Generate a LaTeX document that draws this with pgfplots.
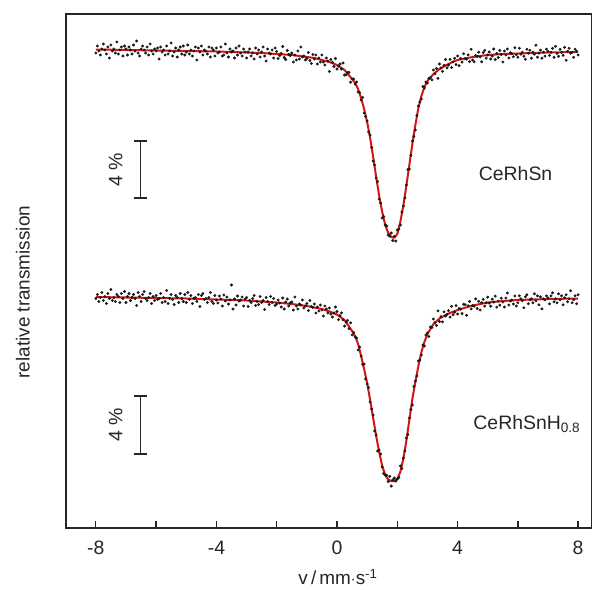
\documentclass[border=0pt]{standalone}
\usepackage{pgfplots}
\pgfplotsset{compat=1.18}
\usepackage{fontspec}
\setmainfont{Liberation Sans}
\definecolor{fitred}{RGB}{215,20,20}
\begin{document}
\begin{tikzpicture}
\fontsize{19.5}{23}\selectfont
\begin{axis}[
  scale only axis,
  width=526bp, height=514bp,
  xmin=-8.99, xmax=8.46,
  ymin=14, ymax=528,
  y dir=reverse,
  ytick=\empty,
  xtick={-8,-6,...,8},
  xticklabels={-8,,-4,,0,,4,,8},
  xtick pos=bottom,
  tick align=inside,
  major tick length=7.5bp,
  tick style={line width=1.3bp, black!85},
  axis line style={line width=1.8bp, black!85},
  /pgf/number format/assume math mode=true,
  xticklabel style={font=\fontsize{19.5}{23}\selectfont, text=black!85, yshift=-6bp},
  xlabel={v\,/\,mm$\cdot$s\textsuperscript{-1}},
  xlabel style={font=\fontsize{19}{23}\selectfont, text=black!85, at={(axis description cs:0.517,-0.096)}, anchor=center},
  ylabel={relative transmission},
  ylabel style={font=\fontsize{19}{23}\selectfont, text=black!85, at={(axis description cs:-0.082,0.459)}, anchor=center, rotate=0},
  clip=false,
]
\coordinate (O) at (axis description cs:0,0);
% fit curve, top spectrum
\addplot[fitred, line width=2bp] table {
-8 49.5
-7 50
-6 50.5
-5 51
-4 51.5
-3 52.5
-2.5 53
-2 54
-1.5 55
-1 57
-0.75 58
-0.5 60
-0.25 62
0 65
0.05 66
0.1 67
0.15 68
0.2 69
0.25 70
0.3 71.8
0.35 73.6
0.4 75.4
0.45 77.2
0.5 79
0.55 81
0.6 83
0.65 86
0.7 89
0.75 93.5
0.8 98
0.85 103.5
0.9 109
0.95 115.5
1 122
1.05 130
1.1 138
1.15 147.5
1.2 157
1.25 167
1.3 177
1.35 186.5
1.4 196
1.45 204
1.5 212
1.55 218.5
1.6 225
1.65 229
1.7 233
1.75 235
1.8 237
1.85 237.5
1.9 237.5
1.95 236
2 234
2.05 228
2.1 222
2.15 214
2.2 206
2.25 196
2.3 186
2.35 175.5
2.4 165
2.45 154.5
2.5 144
2.55 134.5
2.6 125
2.65 116.5
2.7 108
2.75 102
2.8 96
2.85 91.5
2.9 87
2.95 84
3 81
3.05 79.3
3.1 77.5
3.15 75.8
3.2 74
3.25 72.8
3.3 71.5
3.35 70.3
3.4 69
3.45 68
3.5 67.3
3.55 66.4
3.6 65.5
3.65 64.8
3.7 64
3.75 63.3
3.8 62.5
3.85 61.9
3.9 61.3
3.95 60.6
4 60
4.5 57
5 55
5.5 54
6 53.5
7 52.5
8 52
};
% fit curve, bottom spectrum
\addplot[fitred, line width=2bp] table {
-8 297
-7 297.5
-6 298
-5 298.5
-4 299.5
-3 300.5
-2.5 301.5
-2 302.5
-1.5 304
-1 306
-0.75 307.5
-0.5 309
-0.25 311.5
0 314.5
0.05 315.6
0.1 316.7
0.15 317.8
0.2 318.9
0.25 320
0.3 322.2
0.35 324.4
0.4 326.6
0.45 328.8
0.5 331
0.55 333.5
0.6 336
0.65 340
0.7 344
0.75 350
0.8 356
0.85 362.5
0.9 369
0.95 376
1 383
1.05 391.5
1.1 400
1.15 409
1.2 418
1.25 427
1.3 436
1.35 444
1.4 452
1.45 459
1.5 466
1.55 470.5
1.6 475
1.65 477.3
1.7 479.5
1.75 480.3
1.8 481
1.85 481
1.9 481
1.95 480
2 479
2.05 475.5
2.1 472
2.15 465.5
2.2 459
2.25 450
2.3 441
2.35 430.5
2.4 420
2.45 409.5
2.5 399
2.55 390.5
2.6 382
2.65 374
2.7 366
2.75 359
2.8 352
2.85 347
2.9 342
2.95 338
3 334
3.05 331.5
3.1 329
3.15 326.5
3.2 324
3.25 322.6
3.3 321.3
3.35 319.9
3.4 318.5
3.45 317.6
3.5 316.8
3.55 315.9
3.6 315
3.65 314.3
3.7 313.6
3.75 313
3.8 312.3
3.85 311.7
3.9 311.2
3.95 310.6
4 310
4.5 305.5
5 302.5
5.5 301
6 300
7 299
8 298.5
};
% measured points, top spectrum (CeRhSn)
\addplot[only marks, mark=*, mark size=1.25bp, black!90] table {
-8 53
-7.95 46
-7.9 51
-7.85 55
-7.8 49
-7.75 44
-7.7 50
-7.65 54
-7.6 47
-7.55 58
-7.5 45
-7.45 51
-7.4 49
-7.35 53
-7.3 42
-7.25 54
-7.2 50
-7.15 47
-7.1 56
-7.05 46
-7 49
-6.95 55
-6.9 47
-6.85 50
-6.8 54
-6.75 45
-6.7 51
-6.65 41
-6.6 53
-6.55 56
-6.5 49
-6.45 46
-6.4 50
-6.35 53
-6.3 47
-6.25 55
-6.2 44
-6.15 51
-6.1 54
-6.05 49
-6 51
-5.95 48
-5.9 59
-5.85 47
-5.8 52
-5.75 50
-5.7 55
-5.65 46
-5.6 54
-5.55 51
-5.5 43
-5.45 56
-5.4 52
-5.35 48
-5.3 57
-5.25 50
-5.2 47
-5.15 54
-5.1 46
-5.05 55
-5 52
-4.95 45
-4.9 54
-4.85 50
-4.8 56
-4.75 51
-4.7 47
-4.65 60
-4.6 48
-4.55 52
-4.5 46
-4.45 55
-4.4 50
-4.35 51
-4.3 54
-4.25 47
-4.2 57
-4.15 48
-4.1 50
-4.05 56
-4 48
-3.95 53
-3.9 52
-3.85 47
-3.8 56
-3.75 55
-3.7 44
-3.65 53
-3.6 57
-3.55 49
-3.5 52
-3.45 51
-3.4 58
-3.35 48
-3.3 55
-3.25 46
-3.2 53
-3.15 56
-3.1 49
-3.05 52
-3 58
-2.95 52
-2.9 49
-2.85 56
-2.8 53
-2.75 59
-2.7 48
-2.65 54
-2.6 50
-2.55 57
-2.5 52
-2.45 47
-2.4 56
-2.35 61
-2.3 49
-2.25 53
-2.2 54
-2.15 50
-2.1 58
-2.05 48
-2 51.5
-1.95 58.5
-1.9 55.5
-1.85 53.5
-1.8 46.5
-1.75 57.5
-1.7 59.5
-1.65 50.5
-1.6 54.5
-1.55 55.5
-1.5 53
-1.45 62
-1.4 55
-1.35 60
-1.3 51
-1.25 59
-1.2 47
-1.15 57
-1.1 56
-1.05 60
-1 58.5
-0.95 52.5
-0.9 60.5
-0.85 63.5
-0.8 54.5
-0.75 59
-0.7 55
-0.65 64
-0.6 58
-0.55 62
-0.5 55
-0.45 62
-0.4 65
-0.35 58
-0.3 61
-0.25 71.5
-0.2 59.5
-0.15 62.5
-0.1 66.5
-0.05 58.5
0 69
0.05 66
0.1 64
0.15 69
0.2 63
0.25 75
0.3 74.8
0.35 72.6
0.4 72.4
0.45 82.2
0.5 79
0.55 79
0.6 84
0.65 82
0.7 92
0.75 92.5
0.8 100
0.85 97.5
0.9 113
0.95 116.5
1 121
1.05 132
1.1 135
1.15 147.5
1.2 161
1.25 165
1.3 178
1.35 181.5
1.4 199
1.45 203
1.5 218
1.55 216.5
1.6 225
1.65 226
1.7 235
1.75 236
1.8 233
1.85 240.5
1.9 236.5
1.95 241
2 230
2.05 229
2.1 225
2.15 212
2.2 206
2.25 198
2.3 185
2.35 169.5
2.4 169
2.45 155.5
2.5 141
2.55 136.5
2.6 130
2.65 115.5
2.7 106
2.75 102
2.8 99
2.85 86.5
2.9 88
2.95 82
3 83
3.05 78.3
3.1 77.5
3.15 79.8
3.2 70
3.25 73.8
3.3 68.5
3.35 78.3
3.4 64
3.45 68
3.5 71.3
3.55 65.4
3.6 59.5
3.65 67.8
3.7 65
3.75 59.3
3.8 67.5
3.85 61.9
3.9 58.3
3.95 64.6
4 56
4.05 65.7
4.1 58.4
4.15 62.1
4.2 53.8
4.25 58.5
4.3 59.2
4.35 54.9
4.4 61.6
4.45 49.3
4.5 60
4.55 61.8
4.6 55.6
4.65 56.4
4.7 52.2
4.75 57
4.8 61.8
4.85 52.6
4.9 50.4
4.95 58.2
5 55
5.05 52
5.1 59
5.15 56
5.2 49
5.25 59.5
5.3 53.5
5.35 57.5
5.4 50.5
5.45 54.5
5.5 62
5.55 51
5.6 55
5.65 49
5.7 58
5.75 52.7
5.8 53.7
5.85 56.7
5.9 47.7
5.95 54.7
6 57.2
6.05 48.2
6.1 54.2
6.15 52.2
6.2 56.2
6.25 59.2
6.3 49.2
6.35 53.2
6.4 50.2
6.45 58.2
6.5 52.2
6.55 54.2
6.6 45.2
6.65 57.2
6.7 53.2
6.75 50.2
6.8 58.2
6.85 52.2
6.9 56.2
6.95 49.2
7 51.3
7.05 55.3
7.1 52.3
7.15 48.3
7.2 57.3
7.25 46.3
7.3 53.3
7.35 56.3
7.4 49.3
7.45 52.3
7.5 55.3
7.55 47.3
7.6 60.3
7.65 51.3
7.7 48.3
7.75 53.3
7.8 52.3
7.85 57.3
7.9 49.3
7.95 51.3
8 55
};
% measured points, bottom spectrum (CeRhSnH0.8)
\addplot[only marks, mark=*, mark size=1.25bp, black!90] table {
-8 298.5
-7.95 294.5
-7.9 301.5
-7.85 297.5
-7.8 292.5
-7.75 300.5
-7.7 296.5
-7.65 303.5
-7.6 293.5
-7.55 298.5
-7.5 289.5
-7.45 300.5
-7.4 297.5
-7.35 301.5
-7.3 294.5
-7.25 296.5
-7.2 302.5
-7.15 293.5
-7.1 298.5
-7.05 291.5
-7 302.5
-6.95 296.5
-6.9 293.5
-6.85 300.5
-6.8 297.5
-6.75 294.5
-6.7 298.5
-6.65 305.5
-6.6 292.5
-6.55 296.5
-6.5 301.5
-6.45 294.5
-6.4 291.5
-6.35 298.5
-6.3 300.5
-6.25 297.5
-6.2 293.5
-6.15 303.5
-6.1 296.5
-6.05 300.5
-6 295.5
-5.95 299.5
-5.9 298.5
-5.85 293.5
-5.8 302.5
-5.75 297.5
-5.7 301.5
-5.65 290.5
-5.6 303.5
-5.55 298.5
-5.5 294.5
-5.45 299.5
-5.4 304.5
-5.35 295.5
-5.3 297.5
-5.25 302.5
-5.2 293.5
-5.15 298.5
-5.1 301.5
-5.05 294.5
-5 302.5
-4.95 292.5
-4.9 299.5
-4.85 295.5
-4.8 303.5
-4.75 298.5
-4.7 297.5
-4.65 301.5
-4.6 294.5
-4.55 306.5
-4.5 295.5
-4.45 293.5
-4.4 299.5
-4.35 298.5
-4.3 302.5
-4.25 297.5
-4.2 292.5
-4.15 301.5
-4.1 303.5
-4.05 295.5
-4 300
-3.95 303
-3.9 296
-3.85 299
-3.8 306
-3.75 295
-3.7 301
-3.65 297
-3.6 304
-3.55 300
-3.5 285
-3.45 309
-3.4 299
-3.35 305
-3.3 296
-3.25 301
-3.2 300
-3.15 297
-3.1 306
-3.05 299
-3 297.5
-2.95 306.5
-2.9 300.5
-2.85 302.5
-2.8 298.5
-2.75 295.5
-2.7 305.5
-2.65 301.5
-2.6 304.5
-2.55 296.5
-2.5 302.5
-2.45 300.5
-2.4 309.5
-2.35 297.5
-2.3 301.5
-2.25 304.5
-2.2 296.5
-2.15 302.5
-2.1 298.5
-2.05 305.5
-2 304
-1.95 300
-1.9 303
-1.85 307
-1.8 298
-1.75 309
-1.7 302
-1.65 299
-1.6 306
-1.55 303
-1.5 302
-1.45 310
-1.4 297
-1.35 306
-1.3 309
-1.25 304
-1.2 305
-1.15 300
-1.1 308
-1.05 306
-1 303.5
-0.95 310.5
-0.9 300.5
-0.85 306.5
-0.8 307.5
-0.75 304
-0.7 313
-0.65 307
-0.6 311
-0.55 305
-0.5 310
-0.45 316
-0.4 306
-0.35 309
-0.3 313
-0.25 308
-0.2 314
-0.15 317
-0.1 313
-0.05 307
0 311.5
0.05 319.6
0.1 315.7
0.15 312.8
0.2 319.9
0.25 326
0.3 322.2
0.35 320.4
0.4 328.6
0.45 322.8
0.5 335
0.55 332.5
0.6 337
0.65 338
0.7 350
0.75 347
0.8 356
0.85 364.5
0.9 364
0.95 379
1 384
1.05 387.5
1.1 402
1.15 409
1.2 415
1.25 431
1.3 435
1.35 451
1.4 450
1.45 454
1.5 467
1.55 473.5
1.6 475
1.65 475.3
1.7 481.5
1.75 476.3
1.8 486
1.85 480
1.9 478
1.95 481
2 479
2.05 477.5
2.1 466
2.15 468.5
2.2 458
2.25 451
2.3 438
2.35 434.5
2.4 418
2.45 409.5
2.5 405
2.55 386.5
2.6 381
2.65 376
2.7 361
2.75 360
2.8 355
2.85 345
2.9 346
2.95 335
3 333
3.05 336.5
3.1 327
3.15 327.5
3.2 319
3.25 322.6
3.3 325.3
3.35 310.9
3.4 321.5
3.45 316.6
3.5 321.8
3.55 311.9
3.6 316
3.65 314.3
3.7 310.6
3.75 317
3.8 306.3
3.85 314.7
3.9 312.2
3.95 305.6
4 314
4.05 308.5
4.1 309.1
4.15 313.6
4.2 304.2
4.25 304.7
4.3 315.3
4.35 305.8
4.4 301.4
4.45 308.9
4.5 305.5
4.55 306.2
4.6 298.9
4.65 308.6
4.7 301.3
4.75 310
4.8 302.7
4.85 299.4
4.9 306.1
4.95 302.8
5 297.2
5.05 303.2
5.1 306.2
5.15 299.2
5.2 302.2
5.25 296.2
5.3 307.2
5.35 301.2
5.4 305.2
5.45 298.2
5.5 302
5.55 307
5.6 298
5.65 293
5.7 305
5.75 301
5.8 300
5.85 304
5.9 296
5.95 306
6 302.8
6.05 295.8
6.1 298.8
6.15 300.8
6.2 307.8
6.25 296.8
6.3 294.8
6.35 303.8
6.4 299.8
6.45 298.8
6.5 302.8
6.55 293.8
6.6 300.8
6.65 295.8
6.7 304.8
6.75 296.8
6.8 308.8
6.85 298.8
6.9 299.8
6.95 295.8
7 297.8
7.05 303.8
7.1 295.8
7.15 292.8
7.2 301.8
7.25 298.8
7.3 302.8
7.35 293.8
7.4 299.8
7.45 295.8
7.5 304.8
7.55 297.8
7.6 294.8
7.65 301.8
7.7 298.8
7.75 290.8
7.8 302.8
7.85 299.8
7.9 295.8
7.95 303.8
8 294.8
};
% 4 % scale bars
\addplot[black!85, line width=1.8bp] coordinates {(-6.52,141) (-6.52,198)};
\addplot[black!85, line width=1.8bp] coordinates {(-6.75,141) (-6.29,141)};
\addplot[black!85, line width=1.8bp] coordinates {(-6.75,198) (-6.29,198)};
\addplot[black!85, line width=1.8bp] coordinates {(-6.52,396) (-6.52,454)};
\addplot[black!85, line width=1.8bp] coordinates {(-6.75,396) (-6.29,396)};
\addplot[black!85, line width=1.8bp] coordinates {(-6.75,454) (-6.29,454)};
\node[rotate=90, anchor=center, text=black!85] at (axis cs:-7.34,170) {4 \%};
\node[rotate=90, anchor=center, text=black!85] at (axis cs:-7.34,425) {4 \%};
\node[anchor=west, text=black!85, inner sep=0pt] at (axis cs:4.7,174) {CeRhSn};
\node[anchor=west, text=black!85, inner sep=0pt] at (axis cs:4.52,424) {CeRhSnH\textsubscript{0.8}};
\end{axis}
\pgfresetboundingbox
\path (O) ++(-66bp,-62bp) rectangle ++(592bp,590bp);
\end{tikzpicture}
\end{document}
